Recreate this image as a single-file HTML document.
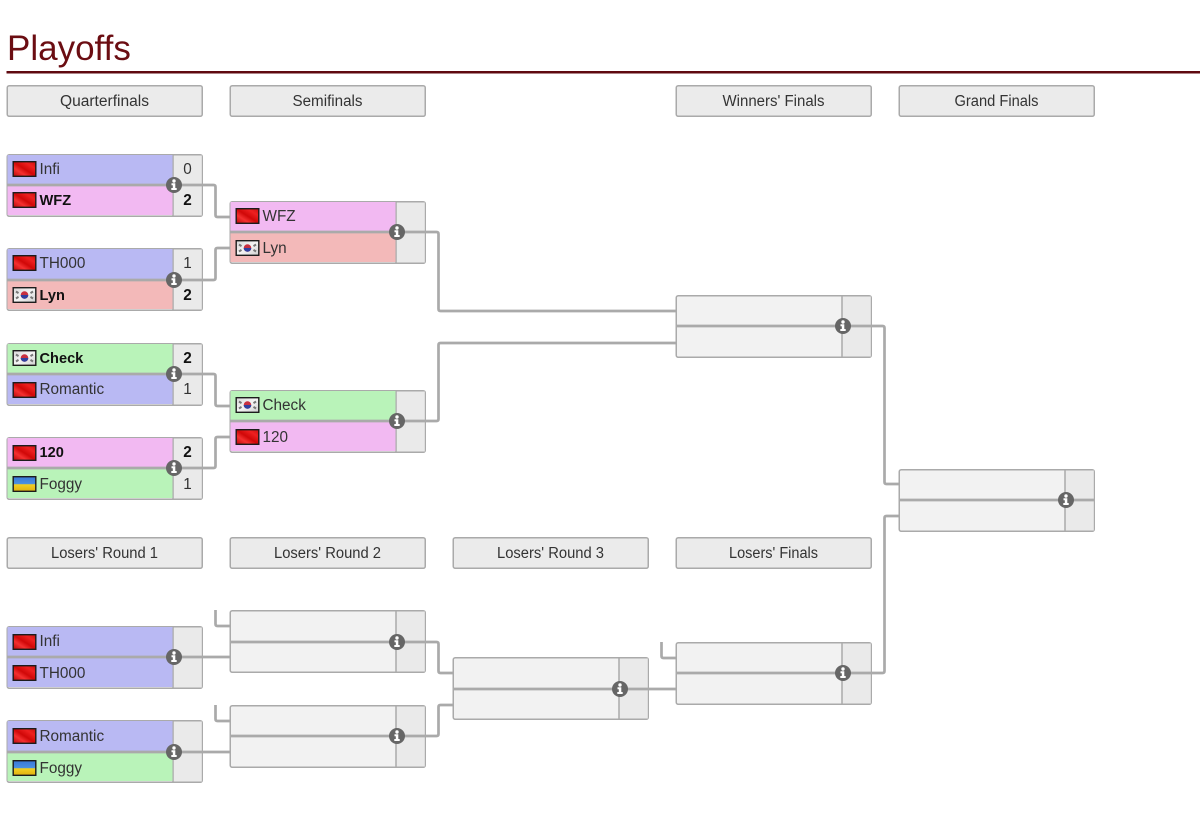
<!DOCTYPE html>
<html lang="en">
<head>
<meta charset="utf-8">
<title>Playoffs</title>
<style>
html,body{margin:0;padding:0;background:#fff;width:1200px;height:826px;overflow:hidden}
svg{display:block}
text{font-family:"Liberation Sans",Arial,sans-serif;font-size:15.3px;fill:#333}
text:not(.h):not(.t){transform:translateY(-1px)}
.t{font-size:35px;fill:#6b0d12}
.h{text-anchor:middle;font-size:15.5px}
.b{font-weight:bold;fill:#111;font-size:14.6px}
.s{text-anchor:middle}
.sb{text-anchor:middle;font-weight:bold;fill:#111}
.box{fill:#ebebeb;stroke:#aaa;stroke-width:1.5}
.m{fill:#f2f2f2;stroke:#aaa;stroke-width:1.5}
.sc{fill:#eaeaea}
.c{fill:none;stroke:#aaa;stroke-width:2.7}
.v{stroke:#aaa;stroke-width:1.5}
</style>
</head>
<body>
<svg width="1200" height="826" viewBox="0 0 1200 826" xmlns="http://www.w3.org/2000/svg">
<defs>
<linearGradient id="r" x1="0" y1="1" x2="1" y2="0">
<stop offset="0" stop-color="#b80808"/><stop offset=".3" stop-color="#f43030"/><stop offset=".5" stop-color="#d00808"/><stop offset=".75" stop-color="#ee2020"/><stop offset="1" stop-color="#c81010"/>
</linearGradient>
<linearGradient id="u" x1="0" y1="0" x2="0" y2="1">
<stop offset="0" stop-color="#3a78d8"/><stop offset=".48" stop-color="#4a90e0"/><stop offset=".55" stop-color="#f2d020"/><stop offset="1" stop-color="#e0b010"/>
</linearGradient>
<linearGradient id="k" x1="0" y1="0" x2="1" y2="1">
<stop offset="0" stop-color="#d8d8d8"/><stop offset=".5" stop-color="#f4f4f4"/><stop offset="1" stop-color="#cfcfcf"/>
</linearGradient>
<g id="cn"><rect x=".7" y=".7" width="22.6" height="14.6" fill="url(#r)" stroke="#1c1c1c" stroke-width="1.4"/></g>
<g id="kr"><rect x=".7" y=".7" width="22.6" height="14.6" fill="url(#k)" stroke="#1c1c1c" stroke-width="1.4"/><circle cx="12" cy="8" r="3.8" fill="#c83040"/><path d="M8.2 8a3.8 3.8 0 0 0 7.6 0z" fill="#3040a0"/><path d="M3.5 4.5l2.5 1.6M3.5 11.5l2.5-1.6M20.5 4.5l-2.5 1.6M20.5 11.5l-2.5-1.6" stroke="#777" stroke-width="2"/></g>
<g id="ua"><rect x=".7" y=".7" width="22.6" height="14.6" fill="url(#u)" stroke="#1c1c1c" stroke-width="1.4"/></g>
<g id="i"><circle r="8" fill="#666"/><circle cx="0" cy="-4" r="1.7" fill="#fff"/><path d="M-2.5-1.8H1.3V3H2.7V5H-2.7V3H-1.200V.2H-2.5z" fill="#fff"/></g>
<g id="mb">
<rect class="m" x=".75" y=".75" width="195" height="61.5" rx="2"/>
<rect class="sc" x="167" y="1.5" width="28.3" height="60"/>
<path class="v" d="M166.5 1V62"/>
</g>
</defs>

<g transform="translate(-.5,0)">
<text class="t" x="7.5" y="60">Playoffs</text>
<rect x="7" y="71" width="1194" height="2.5" fill="#5f0a10"/>

<rect class="box" x="7.75" y="85.75" width="195" height="30.5" rx="2"/><text class="h" x="105" y="106" textLength="89" lengthAdjust="spacingAndGlyphs">Quarterfinals</text>
<rect class="box" x="230.75" y="85.75" width="195" height="30.5" rx="2"/><text class="h" x="328" y="106" textLength="70" lengthAdjust="spacingAndGlyphs">Semifinals</text>
<rect class="box" x="676.75" y="85.75" width="195" height="30.5" rx="2"/><text class="h" x="774" y="106" textLength="102" lengthAdjust="spacingAndGlyphs">Winners' Finals</text>
<rect class="box" x="899.75" y="85.75" width="195" height="30.5" rx="2"/><text class="h" x="997" y="106" textLength="84" lengthAdjust="spacingAndGlyphs">Grand Finals</text>
<rect class="box" x="7.75" y="537.75" width="195" height="30.5" rx="2"/><text class="h" x="105" y="558" textLength="107" lengthAdjust="spacingAndGlyphs">Losers' Round 1</text>
<rect class="box" x="230.75" y="537.75" width="195" height="30.5" rx="2"/><text class="h" x="328" y="558" textLength="107" lengthAdjust="spacingAndGlyphs">Losers' Round 2</text>
<rect class="box" x="453.75" y="537.75" width="195" height="30.5" rx="2"/><text class="h" x="551" y="558" textLength="107" lengthAdjust="spacingAndGlyphs">Losers' Round 3</text>
<rect class="box" x="676.75" y="537.75" width="195" height="30.5" rx="2"/><text class="h" x="774" y="558" textLength="89" lengthAdjust="spacingAndGlyphs">Losers' Finals</text>

<!-- Quarterfinals -->
<use href="#mb" x="7" y="154"/>
<rect x="8" y="155" width="165" height="30" fill="#b9b9f3"/><rect x="8" y="186" width="165" height="29" fill="#f2b9f2"/>
<use href="#cn" x="13" y="161"/><text x="40" y="175">Infi</text><text class="s" x="188" y="175">0</text>
<use href="#cn" x="13" y="192"/><text class="b" x="40" y="206">WFZ</text><text class="sb" x="188" y="206">2</text>

<use href="#mb" x="7" y="248"/>
<rect x="8" y="249" width="165" height="30" fill="#b9b9f3"/><rect x="8" y="280" width="165" height="29" fill="#f3b9b9"/>
<use href="#cn" x="13" y="255"/><text x="40" y="269">TH000</text><text class="s" x="188" y="269">1</text>
<use href="#kr" x="13" y="287"/><text class="b" x="40" y="301">Lyn</text><text class="sb" x="188" y="301">2</text>

<use href="#mb" x="7" y="343"/>
<rect x="8" y="344" width="165" height="30" fill="#b9f3b9"/><rect x="8" y="375" width="165" height="29" fill="#b9b9f3"/>
<use href="#kr" x="13" y="350"/><text class="b" x="40" y="364">Check</text><text class="sb" x="188" y="364">2</text>
<use href="#cn" x="13" y="382"/><text x="40" y="395">Romantic</text><text class="s" x="188" y="395">1</text>

<use href="#mb" x="7" y="437"/>
<rect x="8" y="438" width="165" height="30" fill="#f2b9f2"/><rect x="8" y="469" width="165" height="29" fill="#b9f3b9"/>
<use href="#cn" x="13" y="445"/><text class="b" x="40" y="458">120</text><text class="sb" x="188" y="458">2</text>
<use href="#ua" x="13" y="476"/><text x="40" y="490">Foggy</text><text class="s" x="188" y="490">1</text>

<!-- Semifinals -->
<use href="#mb" x="230" y="201"/>
<rect x="231" y="202" width="165" height="30" fill="#f2b9f2"/><rect x="231" y="233" width="165" height="29" fill="#f3b9b9"/>
<use href="#cn" x="236" y="208"/><text x="263" y="222">WFZ</text>
<use href="#kr" x="236" y="240"/><text x="263" y="254">Lyn</text>

<use href="#mb" x="230" y="390"/>
<rect x="231" y="391" width="165" height="30" fill="#b9f3b9"/><rect x="231" y="422" width="165" height="29" fill="#f2b9f2"/>
<use href="#kr" x="236" y="397"/><text x="263" y="411">Check</text>
<use href="#cn" x="236" y="429"/><text x="263" y="443">120</text>

<!-- Losers' Round 1 -->
<use href="#mb" x="7" y="626"/>
<rect x="8" y="627" width="165" height="30" fill="#b9b9f3"/><rect x="8" y="658" width="165" height="29" fill="#b9b9f3"/>
<use href="#cn" x="13" y="634"/><text x="40" y="647">Infi</text>
<use href="#cn" x="13" y="665"/><text x="40" y="679">TH000</text>

<use href="#mb" x="7" y="720"/>
<rect x="8" y="721" width="165" height="30" fill="#b9b9f3"/><rect x="8" y="752" width="165" height="29" fill="#b9f3b9"/>
<use href="#cn" x="13" y="728"/><text x="40" y="742">Romantic</text>
<use href="#ua" x="13" y="760"/><text x="40" y="774">Foggy</text>

<!-- Empty matches -->
<use href="#mb" x="230" y="610"/>
<use href="#mb" x="230" y="705"/>
<use href="#mb" x="453" y="657"/>
<use href="#mb" x="676" y="642"/>
<use href="#mb" x="676" y="295"/>
<use href="#mb" x="899" y="469"/>

<!-- Centre lines and connectors -->
<path class="c" d="M7 185H214q2 0 2 2V215q0 2 2 2H230"/>
<path class="c" d="M7 280H214q2 0 2-2V250q0-2 2-2H230"/>
<path class="c" d="M7 374H214q2 0 2 2V404q0 2 2 2H230"/>
<path class="c" d="M7 468H214q2 0 2-2V439q0-2 2-2H230"/>
<path class="c" d="M230 232H437q2 0 2 2V309q0 2 2 2H676"/>
<path class="c" d="M230 421H437q2 0 2-2V345q0-2 2-2H676"/>
<path class="c" d="M676 326H883q2 0 2 2V482q0 2 2 2H899"/>
<path class="c" d="M676 673H883q2 0 2-2V518q0-2 2-2H899"/>
<path class="c" d="M899 500H1095"/>
<path class="c" d="M7 657H230"/>
<path class="c" d="M7 752H230"/>
<path class="c" d="M216 610V624q0 2 2 2H230"/>
<path class="c" d="M216 705V719q0 2 2 2H230"/>
<path class="c" d="M230 642H437q2 0 2 2V671q0 2 2 2H453"/>
<path class="c" d="M230 736H437q2 0 2-2V707q0-2 2-2H453"/>
<path class="c" d="M453 689H676"/>
<path class="c" d="M662 642V656q0 2 2 2H676"/>

<!-- Info icons -->
<use href="#i" x="174.5" y="185"/>
<use href="#i" x="174.5" y="280"/>
<use href="#i" x="174.5" y="374"/>
<use href="#i" x="174.5" y="468"/>
<use href="#i" x="174.5" y="657"/>
<use href="#i" x="174.5" y="752"/>
<use href="#i" x="397.5" y="232"/>
<use href="#i" x="397.5" y="421"/>
<use href="#i" x="397.5" y="642"/>
<use href="#i" x="397.5" y="736"/>
<use href="#i" x="620.5" y="689"/>
<use href="#i" x="843.5" y="326"/>
<use href="#i" x="843.5" y="673"/>
<use href="#i" x="1066.5" y="500"/>
</g>
</svg>
</body>
</html>
